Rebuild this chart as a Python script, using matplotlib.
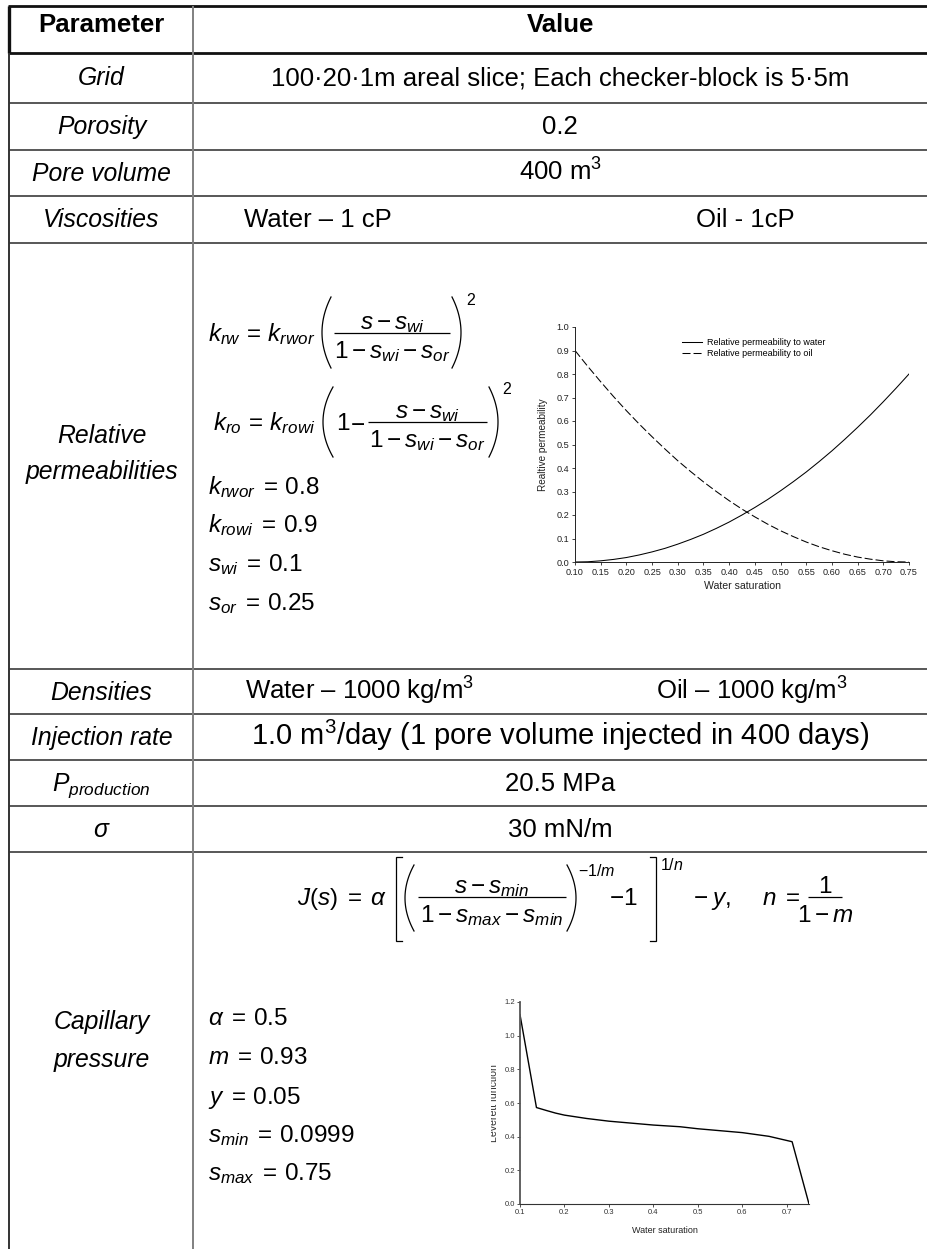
import numpy as np
import matplotlib
matplotlib.use("Agg")
import matplotlib.pyplot as plt
from matplotlib.ticker import FormatStrFormatter
from matplotlib.transforms import Bbox

plt.rcParams["font.family"] = ["Liberation Sans", "DejaVu Sans"]
plt.rcParams["mathtext.fontset"] = "custom"
plt.rcParams["mathtext.rm"] = "Liberation Sans"
plt.rcParams["mathtext.it"] = "Liberation Sans:italic"
plt.rcParams["mathtext.bf"] = "Liberation Sans:bold"
plt.rcParams["mathtext.sf"] = "Liberation Sans"
plt.rcParams["mathtext.fallback"] = "stixsans"

# ---------------------------------------------------------------- table text
header = ["Parameter", "Value"]
param_names = ["Grid", "Porosity", "Pore volume", "Viscosities",
               "Relative\npermeabilities", "Densities", "Injection rate",
               r"$P_{production}$", r"$\sigma$", "Capillary\npressure"]
grid_text = "100\u00b720\u00b71m areal slice; Each checker-block is 5\u00b75m"
porosity_text = "0.2"
pore_volume_text = "400 m$^3$"
viscosity_texts = ["Water \u2013 1 cP", "Oil - 1cP"]
density_texts = ["Water \u2013 1000 kg/m$^3$", "Oil \u2013 1000 kg/m$^3$"]
injection_text = "1.0 m$^3$/day (1 pore volume injected in 400 days)"
pressure_text = "20.5 MPa"
tension_text = "30 mN/m"

relperm_constants = [r"$k_{rwor}\;=\,0.8$", r"$k_{rowi}\;=\,0.9$",
                     r"$s_{wi}\;=\,0.1$", r"$s_{or}\;=\,0.25$"]
capillary_constants = [r"$\alpha\;=\,0.5$", r"$m\;=\,0.93$", r"$y\;=\,0.05$",
                       r"$s_{min}\;=\,0.0999$", r"$s_{max}\;=\,0.75$"]

# ---------------------------------------------------------------- chart data
sw_rel = [0.100, 0.125, 0.150, 0.175, 0.200, 0.225, 0.250, 0.275, 0.300,
          0.325, 0.350, 0.375, 0.400, 0.425, 0.450, 0.475, 0.500, 0.525,
          0.550, 0.575, 0.600, 0.625, 0.650, 0.675, 0.700, 0.725, 0.750]
krw_vals = [0.000, 0.001, 0.005, 0.011, 0.019, 0.030, 0.043, 0.058, 0.076,
            0.096, 0.118, 0.143, 0.170, 0.200, 0.232, 0.266, 0.303, 0.342,
            0.383, 0.427, 0.473, 0.522, 0.573, 0.626, 0.682, 0.740, 0.800]
kro_vals = [0.900, 0.832, 0.767, 0.704, 0.644, 0.587, 0.533, 0.481, 0.431,
            0.385, 0.341, 0.300, 0.261, 0.225, 0.192, 0.161, 0.133, 0.108,
            0.085, 0.065, 0.048, 0.033, 0.021, 0.012, 0.005, 0.001, 0.000]
rel_xticks = [0.10, 0.15, 0.20, 0.25, 0.30, 0.35, 0.40, 0.45, 0.50, 0.55,
              0.60, 0.65, 0.70, 0.75]
rel_yticks = [0.0, 0.1, 0.2, 0.3, 0.4, 0.5, 0.6, 0.7, 0.8, 0.9, 1.0]

sw_cap = [0.100, 0.137, 0.160, 0.180, 0.200, 0.250, 0.300, 0.400, 0.460,
          0.500, 0.600, 0.660, 0.712, 0.750]
j_vals = [1.125, 0.573, 0.555, 0.540, 0.528, 0.508, 0.492, 0.469, 0.459,
          0.447, 0.424, 0.402, 0.370, 0.000]
cap_xticks = [0.1, 0.2, 0.3, 0.4, 0.5, 0.6, 0.7]
cap_yticks = [0.0, 0.2, 0.4, 0.6, 0.8, 1.0, 1.2]

# ---------------------------------------------------------------- canvas
W, H = 927, 1249
fig = plt.figure(figsize=(W / 100, H / 100), dpi=100)
ax = fig.add_axes([0, 0, 1, 1])
ax.set_xlim(0, W)
ax.set_ylim(H, 0)
ax.axis("off")

row_edges = [6, 53, 103, 150, 196, 243, 669, 714, 760, 806, 852]
left_x, mid_x = 9.5, 193.5
c_left, c_right = (left_x + mid_x) / 2, (mid_x + W) / 2

# horizontal rules
for i, y in enumerate(row_edges):
    thick = i < 2
    ax.plot([left_x - 1.5 if thick else left_x, W], [y, y],
            color="#111111" if thick else "#2a2a2a",
            lw=2.0 if thick else 1.1, solid_capstyle="butt")
# vertical rules
ax.plot([left_x, left_x], [row_edges[0], row_edges[1]], color="#111111",
        lw=2.4, solid_capstyle="butt")
ax.plot([left_x, left_x], [row_edges[1], H], color="#333333", lw=1.4,
        solid_capstyle="butt")
ax.plot([mid_x, mid_x], [row_edges[0], H], color="#808080", lw=1.4,
        solid_capstyle="butt")

FS_L, FS_R, EQ, SUP = 17.8, 18.5, 17.5, 11.5


def put(x, y, s, **kw):
    kw.setdefault("fontsize", FS_R)
    kw.setdefault("ha", "center")
    kw.setdefault("va", "baseline")
    kw.setdefault("color", "black")
    return ax.text(x, y, s, **kw)


def eq(x, y, s, **kw):
    kw.setdefault("fontsize", EQ)
    kw.setdefault("ha", "left")
    return put(x, y, s, **kw)


def bar(x0, x1, y):
    ax.plot([x0, x1], [y, y], color="black", lw=0.9, solid_capstyle="butt")


def paren(x_in, x_out, y_top, y_bot):
    # curved delimiter: ends at x_in, belly reaching x_out
    t = np.linspace(0, 1, 40)
    x_ctrl = 2 * x_out - x_in
    yc = (y_top + y_bot) / 2
    xs = (1 - t) ** 2 * x_in + 2 * (1 - t) * t * x_ctrl + t ** 2 * x_in
    ys = (1 - t) ** 2 * y_top + 2 * (1 - t) * t * yc + t ** 2 * y_bot
    ax.plot(xs, ys, color="black", lw=0.9)


def bracket(x, y_top, y_bot, serif):
    ax.plot([x + serif, x, x, x + serif], [y_top, y_top, y_bot, y_bot],
            color="black", lw=0.9, solid_joinstyle="miter")


# header
put(c_left, 32, header[0], fontweight="bold")
put(c_right, 32, header[1], fontweight="bold")

# parameter column
single_rows = {0: 1, 1: 2, 2: 3, 3: 4, 5: 6, 6: 7, 7: 8, 8: 9}
for idx, row in single_rows.items():
    put(c_left, row_edges[row] + 32 if row == 1 else row_edges[row] + 31,
        param_names[idx], style="italic", fontsize=FS_L)
rel_lines = param_names[4].split("\n")
put(c_left, 443, rel_lines[0], style="italic", fontsize=FS_L)
put(c_left, 479, rel_lines[1], style="italic", fontsize=FS_L)
cap_lines = param_names[9].split("\n")
put(c_left, 1029, cap_lines[0], style="italic", fontsize=FS_L)
put(c_left, 1067, cap_lines[1], style="italic", fontsize=FS_L)

# value column
put(c_right, row_edges[1] + 32, grid_text)
put(c_right, row_edges[2] + 31, porosity_text)
put(c_right, row_edges[3] + 31, pore_volume_text)
put(318, row_edges[4] + 31, viscosity_texts[0])
put(745, row_edges[4] + 31, viscosity_texts[1])
put(360, row_edges[6] + 31, density_texts[0])
put(752, row_edges[6] + 31, density_texts[1])
put(c_right, row_edges[7] + 31, injection_text, fontsize=21)
put(c_right, row_edges[8] + 31, pressure_text)
put(c_right, row_edges[9] + 31, tension_text)

# relative permeability formulas
eq(208, 341, r"$k_{rw}\,=\,k_{rwor}$")
paren(331, 322, 297, 368)
bar(334, 450, 333)
eq(392, 329, r"$s-s_{wi}$", ha="center")
eq(392, 358, r"$1-s_{wi}-s_{or}$", ha="center")
paren(452, 461, 297, 368)
eq(466, 305, "2", fontsize=SUP)

eq(213, 430, r"$k_{ro}\,=\,k_{rowi}$")
paren(333, 323, 387, 457)
eq(336, 430, r"$1$")
eq(350, 430, r"$-$")
bar(368, 487, 422)
eq(427, 418, r"$s-s_{wi}$", ha="center")
eq(427, 447, r"$1-s_{wi}-s_{or}$", ha="center")
paren(489, 498, 387, 457)
eq(502, 394, "2", fontsize=SUP)

for k, yb in enumerate([494, 532, 571, 610]):
    eq(208, yb, relperm_constants[k])

# capillary pressure formula
base, fb = 905, 897
eq(297, base, r"$J(s)\;=\;\alpha$")
bracket(396, 857, 941, 6)
paren(414, 405, 865, 931)
bar(418, 566, fb)
eq(492, fb - 4, r"$s-s_{min}$", ha="center")
eq(492, fb + 25, r"$1-s_{max}-s_{min}$", ha="center")
paren(567, 576, 865, 931)
eq(578, 876, r"$-1/m$", fontsize=SUP)
eq(609, base, r"$-1$")
bracket(656, 857, 941, -6)
eq(660, 870, r"$1/n$", fontsize=SUP)
eq(693, base, r"$-\;y,\ \ \ \ n\;=$")
bar(808, 842, fb)
eq(825, fb - 4, r"$1$", ha="center")
eq(825, fb + 25, r"$1-m$", ha="center")

for k, yb in enumerate([1025, 1064, 1104, 1142, 1180]):
    eq(208, yb, capillary_constants[k])

# ---------------------------------------------------------------- relperm chart
ax1 = fig.add_axes([575 / W, 1 - 562 / H, (909 - 575) / W, (562 - 327) / H])
ax1.plot(sw_rel, krw_vals, color="black", lw=0.75,
         label="Relative permeability to water")
ax1.plot(sw_rel, kro_vals, color="black", lw=0.75, ls=(0, (7.7, 2.9)),
         label="Relative permeability to oil")
ax1.set_xlim(0.1, 0.75)
ax1.set_ylim(0, 1.0)
ax1.set_xticks(rel_xticks)
ax1.set_yticks(rel_yticks)
ax1.xaxis.set_major_formatter(FormatStrFormatter("%.2f"))
ax1.yaxis.set_major_formatter(FormatStrFormatter("%.1f"))
for side in ("top", "right"):
    ax1.spines[side].set_visible(False)
for side in ("left", "bottom"):
    ax1.spines[side].set_linewidth(0.7)
    ax1.spines[side].set_color("#222222")
ax1.tick_params(direction="out", length=2.2, width=0.6, labelsize=6.6,
                pad=1.8, colors="#222222")
ax1.set_xlabel("Water saturation", fontsize=7.6, labelpad=3, color="#222222")
ax1.set_ylabel("Realtive permeability", fontsize=7.2, labelpad=6,
               color="#222222")
ax1.patch.set_alpha(0)
ax1.legend(loc="upper left", bbox_to_anchor=(682 / W, 1 - 338 / H),
           bbox_transform=fig.transFigure, frameon=False, fontsize=6.5,
           handlelength=2.2, handletextpad=0.55, borderpad=0,
           borderaxespad=0, labelspacing=0.2)

# ---------------------------------------------------------------- capillary chart
ax2 = fig.add_axes([520 / W, 1 - 1204 / H, (809 - 520) / W, (1204 - 1002) / H])
ax2.plot(sw_cap, j_vals, color="black", lw=1.0)
ax2.set_xlim(0.1, 0.75)
ax2.set_ylim(0, 1.2)
ax2.set_xticks(cap_xticks)
ax2.set_yticks(cap_yticks)
ax2.xaxis.set_major_formatter(FormatStrFormatter("%.1f"))
ax2.yaxis.set_major_formatter(FormatStrFormatter("%.1f"))
for side in ("top", "right"):
    ax2.spines[side].set_visible(False)
ax2.spines["left"].set_linewidth(1.3)
ax2.spines["left"].set_color("#555555")
ax2.spines["bottom"].set_linewidth(0.8)
ax2.spines["bottom"].set_color("#333333")
ax2.tick_params(direction="out", length=2.2, width=0.6, labelsize=5.5,
                pad=1.5, colors="#333333")
ax2.set_xlabel("Water saturation", fontsize=6.5, labelpad=7, color="#222222")
ax2.patch.set_alpha(0)

# y label of the capillary chart, trimmed to a narrow strip
lev = ax.text(494.5, 1103, "Leverett function", rotation=90, fontsize=7.6,
              ha="center", va="center", color="#333333")
p0, p1 = ax.transData.transform([[491.0, 1000], [496.5, 1200]])
lev.set_clip_box(Bbox.from_extents(min(p0[0], p1[0]), min(p0[1], p1[1]),
                                   max(p0[0], p1[0]), max(p0[1], p1[1])))
lev.set_clip_on(True)

fig.savefig("out.png", dpi=100)
